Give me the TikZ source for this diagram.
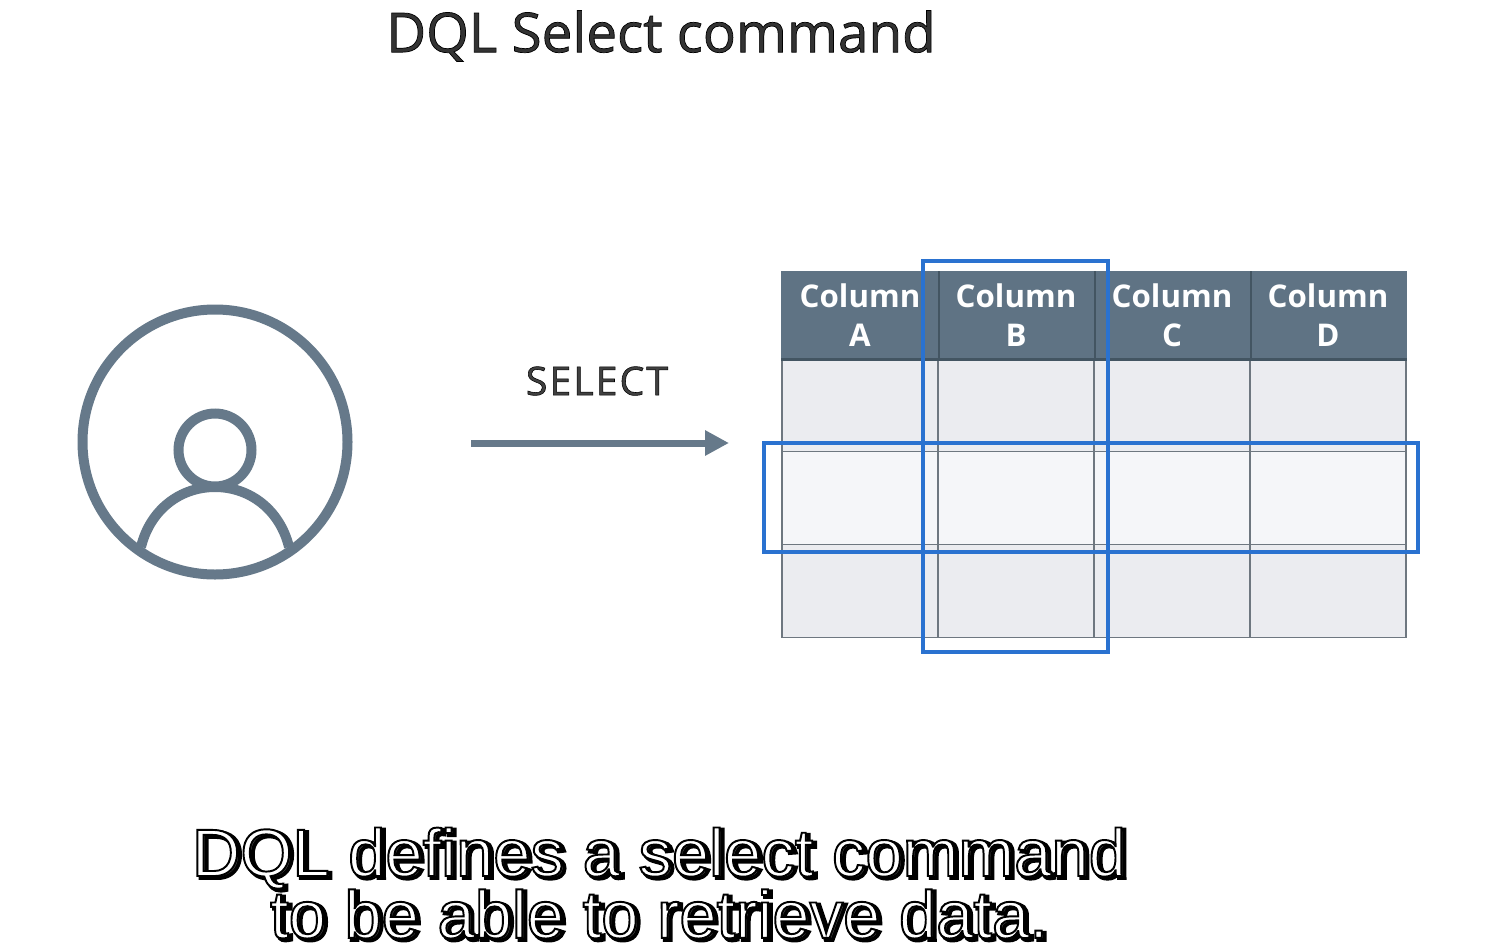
\documentclass[tikz,border=0pt]{standalone}
\usepackage{fontspec}
\usetikzlibrary{arrows.meta}
\setmainfont{Open Sans}
\newfontfamily\subfont{Liberation Sans}

\definecolor{slate}{HTML}{66798A}
\definecolor{headfill}{HTML}{5F7384}
\definecolor{headline}{HTML}{435562}
\definecolor{cellfill}{HTML}{EBECF0}
\definecolor{rowfill}{HTML}{F5F6F9}
\definecolor{gridline}{HTML}{6E7780}
\definecolor{pickblue}{HTML}{2A72D0}

% stroked glyphs for the caption
\newcommand{\strokedtext}[2]{\special{pdf:code 2 Tr #1 w 0 0 0 RG}#2\special{pdf:code 0 Tr 1 w}}

\tikzset{
	cell/.style={draw=gridline, line width=.15mm, fill=cellfill, minimum width=15.6mm, minimum height=9.3mm, inner sep=0pt},
	headcell/.style={cell, draw=headfill, fill=headfill, minimum height=8.7mm, text=white, align=center, font=\fontsize{8.9}{11.1}\selectfont\bfseries},
	pick/.style={draw=pickblue, line width=.38mm, inner sep=0pt},
	caption/.style={align=center, font=\subfont\fontsize{19.05}{17.6}\selectfont, inner sep=0pt}
}

\begin{document}
\begin{tikzpicture}[x=.1mm, y=-.1mm]
\useasboundingbox (0,0) rectangle (1495,949);

\node[font=\fontsize{15.6}{18}\selectfont, text=black!80, inner sep=0pt] (title) at (661,36) {\strokedtext{.2}{DQL Select command}};

% user icon
\node[circle, draw=slate, line width=1mm, minimum size=26.5mm, inner sep=0pt] (user) at (215,442) {};
\node[circle, draw=slate, line width=1mm, minimum size=7.3mm, inner sep=0pt] (head) at (215,450) {};
\draw[slate, line width=1mm] (141,547) .. controls (150,510) and (180,487) .. (215,487) .. controls (250,487) and (280,510) .. (289,547);

% request
\node[font=\fontsize{11.2}{12}\selectfont\addfontfeature{LetterSpace=5}, text=black!75, inner sep=0pt] (select) at (597,381) {\strokedtext{.15}{SELECT}};
\coordinate (reqstart) at (471,443);
\coordinate (reqend) at (729,443);
\draw[slate, line width=.7mm, -{Triangle[length=2.4mm, width=2.4mm]}] (reqstart) -- (reqend);

% table
\foreach \col/\name [count=\i from 0] in {860/A, 1016/B, 1172/C, 1328/D} {
	\node[headcell] (head\name) at (\col,315.5) {Column\\\name};
	\node[cell] (top\name) at (\col,405) {};
	\node[cell, fill=rowfill] (mid\name) at (\col,498) {};
	\node[cell] (low\name) at (\col,591) {};
}
\foreach \name in {A, B, C}
	\draw[headline, line width=.15mm] (head\name.north east) -- (head\name.south east);
\draw[headline, line width=.3mm] (headA.south west) -- (headD.south east);

% selection
\node[pick, minimum width=18.5mm, minimum height=39.1mm] (pickcol) at (1015.5,456.5) {};
\node[pick, minimum width=65.4mm, minimum height=10.9mm] (pickrow) at (1091,497.5) {};

% caption
\node[caption, text=black!70] (shadow) at (662,885) {\strokedtext{1.1}{DQL defines a select command}\\\strokedtext{1.1}{to be able to retrieve data.}};
\node[caption, text=white] (caption) at (659,883) {\strokedtext{.55}{DQL defines a select command}\\\strokedtext{.55}{to be able to retrieve data.}};
\end{tikzpicture}
\end{document}
